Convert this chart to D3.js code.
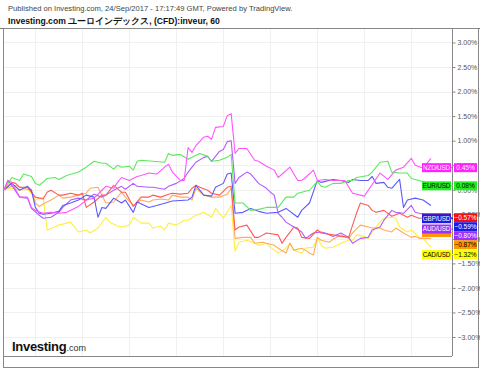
<!DOCTYPE html>
<html><head><meta charset="utf-8">
<script src="https://cdn.jsdelivr.net/npm/d3@7"></script>
<style>body{margin:0;background:#fff}svg{display:block}text{font-family:"Liberation Sans",Arial,sans-serif}</style>
</head><body><svg id="c" width="480" height="369"></svg>
<script>
const xTickHours = [8,20,32,44,56,68,80,92,104,114];
const xTickLabels = ["19","12:00","20","12:00","21","12:00","22","12:00","23","10:00"];
const yTicks = [3,2.5,2,1.5,1,0.5,0,-0.5,-1,-1.5,-2,-2.5,-3];

const eurusd = [[0,0],[2,0.25],[4,0.19],[5,0.32],[7,0.27],[8,0.13],[9,0.09],[11,0.23],[13,0.25],[14,0.21],[16,0.29],[19,0.36],[21,0.46],[23,0.58],[25,0.54],[26,0.54],[28,0.42],[29,0.5],[30,0.46],[32,0.48],[33,0.4],[34,0.58],[35,0.6],[38,0.58],[41,0.56],[42,0.74],[43,0.7],[45,0.72],[47,0.62],[48,0.66],[50,0.74],[52,0.68],[53,0.58],[55,0.6],[57,0.66],[58,0.72],[59,-0.27],[61,-0.27],[63,-0.42],[65,-0.4],[67,-0.36],[70,-0.36],[72,-0.15],[74,-0.15],[75,-0.07],[78,-0.01],[80,0.17],[81,0.07],[82,0.05],[84,0.13],[86,0.13],[88,0.19],[89,0.19],[90,0.25],[93,0.29],[94,0.36],[96,0.56],[98,0.58],[99,0.36],[101,0.34],[103,0.34],[104,0.23],[106,0.19],[109,0.12]];
const nzdusd = [[0,0],[1,0.19],[2,0.15],[4,-0.15],[6,-0.15],[7,-0.36],[8,-0.42],[10,-0.48],[12,-0.46],[14,-0.48],[16,-0.46],[19,-0.34],[21,-0.21],[23,-0.17],[25,-0.01],[26,0.07],[28,0.03],[29,0.15],[30,0.25],[32,0.19],[34,0.27],[35,0.29],[37,0.34],[39,0.32],[41,0.46],[42,0.52],[43,0.36],[45,0.19],[46,0.19],[47,0.86],[48,0.76],[49,0.9],[51,1.07],[52,1.09],[53,1.03],[54,1.27],[56,1.29],[57,1.51],[58,1.55],[59,0.74],[60,0.84],[62,0.84],[64,0.6],[65,0.58],[67,0.48],[69,0.4],[70,0.25],[73,0.46],[75,0.19],[76,0.19],[77,0.25],[79,0.4],[80,0.19],[82,0.21],[84,0.19],[87,0.19],[89,-0.07],[92,-0.13],[93,-0.01],[96,0.34],[98,0.21],[100,0.4],[102,0.46],[104,0.64],[105,0.5],[107,0.44],[109,0.64]];
const blueSeries = [[0,0],[2,0.13],[4,-0.01],[6,0.07],[7,-0.01],[8,-0.36],[9,-0.48],[10,-0.5],[12,-0.48],[14,-0.44],[15,-0.32],[17,-0.27],[19,-0.21],[21,-0.11],[23,-0.15],[24,-0.56],[25,-0.36],[26,-0.38],[28,-0.17],[30,-0.27],[31,-0.21],[33,-0.46],[34,-0.25],[37,-0.36],[39,-0.32],[43,-0.23],[47,-0.21],[48,-0.15],[49,0.09],[51,-0.11],[53,-0.13],[54,0.05],[56,0.13],[57,0.32],[58,0.34],[59,-0.48],[61,-0.46],[63,-0.38],[65,-0.44],[67,-0.48],[70,-0.46],[72,-0.38],[75,-0.56],[76,-0.42],[78,-0.27],[80,0.19],[81,0.15],[84,0.21],[86,0.19],[88,0.15],[89,0.21],[91,0.19],[93,0.19],[94,0.27],[95,0.13],[97,0.15],[98,0.05],[99,0.03],[101,0.21],[102,-0.36],[103,-0.21],[105,-0.17],[107,-0.21],[109,-0.32]];
const redSeries = [[0,0],[2,0.15],[3,0.13],[4,0.05],[6,0.05],[7,-0.05],[8,-0.15],[10,-0.19],[11,-0.05],[12,-0.01],[14,-0.11],[15,-0.11],[17,-0.07],[19,-0.11],[20,-0.07],[21,-0.36],[23,-0.25],[25,-0.11],[26,-0.11],[28,0.09],[30,-0.05],[31,-0.05],[33,-0.34],[35,-0.15],[37,-0.15],[38,-0.11],[40,-0.15],[42,-0.09],[43,-0.07],[45,-0.09],[47,-0.07],[48,0.03],[49,0.09],[50,0.05],[52,-0.01],[53,-0.07],[55,-0.11],[57,0.05],[58,0.07],[59,-0.82],[60,-0.76],[62,-0.72],[64,-0.97],[65,-0.97],[67,-0.88],[70,-0.92],[71,-1.09],[72,-0.97],[74,-0.76],[75,-0.78],[76,-0.97],[78,-0.99],[80,-0.82],[81,-0.88],[84,-0.92],[86,-0.95],[88,-0.97],[89,-0.72],[90,-0.48],[91,-0.27],[93,-0.32],[94,-0.42],[95,-0.46],[97,-0.42],[99,-0.54],[101,-0.48],[103,-0.56],[104,-0.52],[106,-0.58],[109,-0.56]];
const audusd = [[0,0],[1,0.19],[2,0.09],[4,-0.15],[6,-0.17],[7,-0.38],[9,-0.52],[10,-0.58],[12,-0.56],[14,-0.46],[15,-0.36],[17,-0.21],[19,-0.17],[21,-0.21],[23,-0.09],[25,-0.15],[26,-0.11],[28,-0.01],[30,0.07],[31,0.01],[33,0.13],[34,0.07],[37,0.05],[38,0.05],[41,0.01],[42,0.07],[44,0.13],[46,0.23],[47,0.36],[48,0.46],[49,0.56],[51,0.66],[52,0.68],[53,0.58],[55,0.78],[56,0.82],[57,0.98],[58,1.0],[59,0.13],[60,0.25],[62,0.36],[63,0.32],[65,0.13],[67,0.03],[68,-0.05],[69,-0.11],[70,-0.48],[71,-0.56],[72,-0.66],[74,-0.76],[76,-0.86],[77,-0.99],[79,-0.88],[81,-0.86],[82,-0.88],[84,-0.95],[86,-0.88],[88,-0.97],[89,-1.09],[91,-0.99],[93,-0.97],[94,-0.82],[96,-0.76],[97,-0.62],[99,-0.42],[100,-0.46],[102,-0.48],[104,-0.32],[105,-0.46],[106,-0.48],[109,-0.52]];
const orangeSeries = [[0,0],[2,0.07],[3,0.09],[5,0.03],[7,-0.01],[8,-0.27],[9,-0.34],[10,-0.29],[12,-0.21],[14,-0.11],[15,-0.17],[17,-0.15],[19,-0.11],[21,-0.07],[22,0.03],[24,0.05],[25,-0.11],[26,-0.27],[28,-0.25],[30,-0.05],[31,-0.15],[33,-0.32],[35,-0.21],[37,-0.25],[38,-0.21],[40,-0.19],[42,-0.21],[43,-0.11],[45,-0.15],[47,-0.15],[48,-0.21],[49,0.03],[51,-0.11],[53,-0.15],[55,-0.15],[57,-0.09],[58,0.03],[59,-0.99],[61,-0.97],[63,-0.97],[64,-1.09],[66,-1.07],[67,-1.09],[69,-1.13],[70,-1.19],[72,-1.29],[73,-1.09],[74,-1.23],[76,-1.19],[77,-1.23],[78,-1.29],[79,-1.33],[80,-0.97],[81,-1.03],[83,-1.07],[84,-1.01],[86,-0.92],[88,-0.99],[89,-0.88],[91,-0.72],[93,-0.76],[94,-0.78],[96,-0.78],[97,-0.82],[99,-0.86],[100,-0.78],[102,-0.88],[104,-0.97],[105,-0.95],[106,-0.99],[109,-0.99]];
const cadusd = [[0,0],[2,0.03],[4,-0.01],[6,0.01],[7,-0.07],[8,-0.21],[9,-0.17],[10,-0.15],[11,-0.82],[13,-0.76],[14,-0.72],[16,-0.68],[17,-0.66],[19,-0.86],[21,-0.82],[22,-0.88],[24,-0.78],[26,-0.56],[27,-0.66],[29,-0.74],[30,-0.76],[32,-0.72],[33,-0.56],[35,-0.68],[37,-0.68],[38,-0.78],[40,-0.74],[41,-0.82],[42,-0.68],[44,-0.72],[46,-0.62],[47,-0.62],[49,-0.52],[51,-0.46],[53,-0.56],[54,-0.38],[56,-0.58],[58,-0.32],[59,-1.25],[60,-1.07],[62,-1.03],[64,-1.09],[65,-1.13],[67,-1.09],[68,-1.17],[70,-1.29],[72,-1.19],[73,-1.09],[74,-1.23],[76,-1.29],[77,-1.19],[79,-1.17],[80,-0.97],[81,-1.13],[82,-1.19],[84,-1.17],[86,-1.09],[88,-1.03],[89,-1.03],[90,-0.92],[92,-0.95],[93,-0.99],[94,-0.86],[96,-0.66],[97,-0.58],[99,-0.56],[100,-0.58],[101,-0.76],[103,-0.86],[104,-0.82],[106,-0.97],[107,-0.99],[109,-1.17]];

const seriesNames = ["EUR/USD","NZD/USD","GBP/USD","","AUD/USD","","CAD/USD"];
const seriesData = [eurusd,nzdusd,blueSeries,redSeries,audusd,orangeSeries,cadusd];
const lastValues = [0.08,0.45,-0.59,-0.57,-0.80,-0.87,-1.32];
const lineColors = ["#5de85d","#ff55ff","#5a5aff","#ff5a5a","#b05cff","#ffab5c","#ffee44"];
const boxColors = ["#22ee22","#ff22ff","#1a1aee","#ee1111","#9b30ff","#ff9500","#ffff00"];
const boxText = ["#000","#fff","#fff","#fff","#fff","#000","#000"];

const svg = d3.select("#c");
const L=3,R=452,T=29,B=356;
const x = d3.scaleLinear().domain([0,114]).range([4,450.5]);
const y = d3.scaleLinear().domain([-3.387,3.275]).range([B,T]);

// header
svg.append("text").attr("x",8).attr("y",11).attr("font-size",7.6).attr("fill","#444")
  .text("Published on Investing.com, 24/Sep/2017 - 17:17:49 GMT, Powered by TradingView.");
svg.append("text").attr("x",8).attr("y",23.5).attr("font-size",8.6).attr("font-weight","bold").attr("fill","#111")
  .text("Investing.com ユーロインデックス, (CFD):inveur, 60");

// grid
const g = svg.append("g");
g.selectAll(".hg").data(yTicks).join("line").attr("x1",L).attr("x2",R)
  .attr("y1",d=>Math.round(y(d))+0.5).attr("y2",d=>Math.round(y(d))+0.5).attr("stroke","#f0f0f0");
g.selectAll(".vg").data(xTickHours.slice(0,9)).join("line").attr("y1",T).attr("y2",B)
  .attr("x1",d=>Math.round(x(d))+0.5).attr("x2",d=>Math.round(x(d))+0.5).attr("stroke","#f0f0f0");

// frame
svg.append("line").attr("x1",0).attr("x2",480).attr("y1",28.5).attr("y2",28.5).attr("stroke","#777");
svg.append("rect").attr("x",L+0.5).attr("y",28.5).attr("width",475).attr("height",339).attr("fill","none").attr("stroke","#888");

// logo
const logo = svg.append("text").attr("x",12).attr("y",351);
logo.append("tspan").attr("font-size",13).attr("font-weight","bold").attr("fill","#111").attr("letter-spacing","-0.3").text("Investing");
logo.append("tspan").attr("font-size",9).attr("fill","#333").text(".com");

// lines
svg.append("clipPath").attr("id","pc").append("rect").attr("x",L).attr("y",T).attr("width",R-L).attr("height",B-T);
const lineGen = d3.line().x(d=>x(d[0])).y(d=>y(d[1]));
const lg = svg.append("g").attr("clip-path","url(#pc)");
const drawOrder=[6,5,4,3,2,0,1];
drawOrder.forEach(i=>{
  lg.append("path").attr("d",lineGen(seriesData[i])).attr("fill","none").attr("stroke",lineColors[i]).attr("stroke-width",1.1).attr("stroke-linejoin","round");
});

// axes
svg.append("line").attr("x1",R+0.5).attr("x2",R+0.5).attr("y1",T).attr("y2",B).attr("stroke","#888");
svg.append("line").attr("x1",L).attr("x2",R).attr("y1",B+0.5).attr("y2",B+0.5).attr("stroke","#888");
const yAx = svg.append("g").attr("transform",`translate(${R+0.5},0)`)
  .call(d3.axisRight(y).tickValues(yTicks).tickSize(3).tickPadding(2).tickFormat(d=>d3.format(".2f")(d)+"%"));
yAx.select(".domain").remove();
yAx.selectAll("text").attr("font-size",7).attr("fill","#555").attr("font-family","Liberation Sans, Arial, sans-serif");
yAx.selectAll("line").attr("stroke","#888");
svg.append("clipPath").attr("id","xc").append("rect").attr("x",0).attr("y",B).attr("width",R+1).attr("height",14);
const xAx = svg.append("g").attr("transform",`translate(0,${B+0.5})`).attr("clip-path","url(#xc)")
  .call(d3.axisBottom(x).tickValues(xTickHours).tickSize(3).tickPadding(2).tickFormat((d,i)=>xTickLabels[i]));
xAx.select(".domain").remove();
xAx.selectAll("text").attr("font-size",7).attr("fill",(d,i)=>xTickLabels[i].includes(":")?"#777":"#333").attr("font-family","Liberation Sans, Arial, sans-serif");
xAx.selectAll("line").attr("stroke","#888");

// name labels (at last value, no collision)
const nameOrder=[1,0,3,2,5,4,6];
const bh=9;
nameOrder.forEach(i=>{
  const cy=y(lastValues[i]);
  svg.append("rect").attr("x",422).attr("y",cy-bh/2).attr("width",29).attr("height",bh).attr("fill",boxColors[i]);
  svg.append("text").attr("x",436.5).attr("y",cy+2.4).attr("text-anchor","middle").attr("font-size",6.3).attr("letter-spacing","-0.15").attr("fill",boxText[i]).text(seriesNames[i]);
  svg.append("line").attr("x1",451).attr("x2",453).attr("y1",cy).attr("y2",cy).attr("stroke",boxColors[i]);
});
// value labels (stacked)
const sorted = d3.range(lastValues.length).sort((a,b)=>lastValues[b]-lastValues[a]);
let prev=-1e9;
sorted.forEach(i=>{
  let cy=Math.max(y(lastValues[i]), prev+bh);
  prev=cy;
  svg.append("rect").attr("x",454).attr("y",cy-bh/2).attr("width",23).attr("height",bh).attr("fill",boxColors[i]);
  svg.append("text").attr("x",465.5).attr("y",cy+2.4).attr("text-anchor","middle").attr("font-size",6.5).attr("fill",boxText[i]).text(d3.format(".2f")(lastValues[i])+"%");
});
</script></body></html>
